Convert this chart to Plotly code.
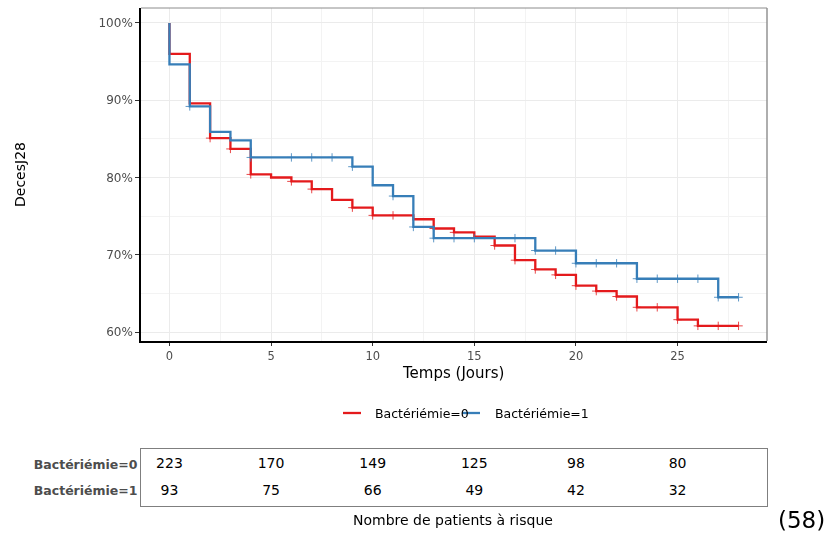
import plotly.graph_objects as go

# Kaplan-Meier step curves (time in days, survival in %)
t0 = [0, 0, 1, 2, 3, 4, 5, 6, 7, 8, 9, 10, 12, 13, 14, 15, 16, 17, 18, 19, 20, 21, 22, 23, 25, 26, 28]
s0 = [100, 96.0, 89.6, 85.1, 83.7, 80.4, 80.0, 79.5, 78.5, 77.1, 76.1, 75.1, 74.6, 73.4, 72.9, 72.35,
      71.2, 69.3, 68.1, 67.4, 66.0, 65.3, 64.6, 63.2, 61.6, 60.8, 60.8]
t1 = [0, 0, 1, 2, 3, 4, 9, 10, 11, 12, 13, 18, 20, 23, 27, 28]
s1 = [100, 94.65, 89.2, 85.9, 84.8, 82.6, 81.4, 79.0, 77.6, 73.6, 72.15, 70.55, 68.9, 66.9, 64.5, 64.5]

# censoring times
c0 = [2, 3, 4, 6, 7, 9, 10, 11, 13, 14, 16, 17, 18, 19, 20, 21, 22, 23, 24, 25, 26, 27, 28]
c1 = [1, 4, 6, 7, 8, 9, 11, 12, 13, 14, 15, 17, 18, 19, 20, 21, 22, 23, 24, 25, 26, 27, 28]

groups = ["Bactériémie=0", "Bactériémie=1"]
colors = ["#E41A1C", "#377EB8"]

# numbers at risk
risk_times = [0, 5, 10, 15, 20, 25]
risk0 = [223, 170, 149, 125, 98, 80]
risk1 = [93, 75, 66, 49, 42, 32]

x_ticks = [0, 5, 10, 15, 20, 25]
y_ticks = [60, 70, 80, 90, 100]
y_ticklabels = ["60%", "70%", "80%", "90%", "100%"]


def surv_at(ts, ss, t):
    v = ss[0]
    for ti, si in zip(ts, ss):
        if ti <= t:
            v = si
    return v


W, H = 824, 537
FONT = "DejaVu Sans"

fig = go.Figure()

for ts, ss, cs, col, name in [(t0, s0, c0, colors[0], groups[0]), (t1, s1, c1, colors[1], groups[1])]:
    fig.add_trace(go.Scatter(x=ts, y=ss, mode="lines", line=dict(shape="hv", color=col, width=2.3),
                             name=name, showlegend=False, xaxis="x", yaxis="y"))
    fig.add_trace(go.Scatter(x=cs, y=[surv_at(ts, ss, c) for c in cs], mode="markers",
                             marker=dict(symbol="cross-thin", size=6, line=dict(color=col, width=1)),
                             opacity=0.8, showlegend=False, hoverinfo="skip", xaxis="x", yaxis="y"))

# risk table
row_y = [0.72, 0.263]
for vals, ry in zip([risk0, risk1], row_y):
    fig.add_trace(go.Scatter(x=risk_times, y=[ry] * len(risk_times), mode="text",
                             text=[str(v) for v in vals], textposition="middle center",
                             textfont=dict(family=FONT, size=14, color="black"),
                             showlegend=False, hoverinfo="skip", xaxis="x2", yaxis="y2"))

xdom = [141 / W, 767 / W]
grid = "#EBEBEB"

fig.update_layout(
    width=W, height=H,
    margin=dict(l=0, r=0, t=0, b=0),
    paper_bgcolor="white", plot_bgcolor="white",
    font=dict(family=FONT),
    xaxis=dict(domain=xdom, range=[-1.4, 29.4], tickvals=x_ticks, ticks="outside", ticklen=3,
               tickcolor="#333333", tickfont=dict(size=11.5, color="#4D4D4D"),
               showgrid=True, gridcolor=grid, gridwidth=1,
               minor=dict(tickvals=[2.5, 7.5, 12.5, 17.5, 22.5, 27.5], showgrid=True,
                          gridcolor="#F3F3F3", gridwidth=1),
               showline=True, linecolor="black", linewidth=1.6, zeroline=False,
               anchor="y"),
    yaxis=dict(domain=[1 - 341 / H, 1 - 8 / H], range=[58.84, 101.94], tickvals=y_ticks,
               ticktext=y_ticklabels, ticks="outside", ticklen=4, tickcolor="#333333",
               tickfont=dict(size=12, color="#4D4D4D"),
               showgrid=True, gridcolor=grid, gridwidth=1,
               minor=dict(tickvals=[65, 75, 85, 95], showgrid=True, gridcolor="#F3F3F3", gridwidth=1),
               showline=True, linecolor="black", linewidth=1.6, zeroline=False,
               anchor="x"),
    xaxis2=dict(domain=xdom, range=[-1.4, 29.4], showticklabels=False, showgrid=False,
                zeroline=False, showline=True, mirror=True, linecolor="#7F7F7F", linewidth=1,
                ticks="", anchor="y2"),
    yaxis2=dict(domain=[1 - 506 / H, 1 - 449 / H], range=[0, 1], tickvals=row_y,
                ticktext=["<b>" + g + "</b>" for g in groups], ticks="", ticklen=0,
                tickfont=dict(size=12.5, color="#4D4D4D"), showgrid=False, zeroline=False,
                showline=True, mirror=True, linecolor="#7F7F7F", linewidth=1, anchor="x2"),
)

# top and right panel border of the curve panel
fig.add_shape(type="line", xref="paper", yref="paper", x0=xdom[0], x1=xdom[1],
              y0=1 - 8 / H, y1=1 - 8 / H, line=dict(color="#8C8C8C", width=1))
fig.add_shape(type="line", xref="paper", yref="paper", x0=xdom[1], x1=xdom[1],
              y0=1 - 341 / H, y1=1 - 8 / H, line=dict(color="#8C8C8C", width=1.4))

# axis titles
fig.add_annotation(text="Temps (Jours)", xref="paper", yref="paper", x=453 / W, y=1 - 373 / H,
                   showarrow=False, font=dict(size=15, color="black"), xanchor="center", yanchor="middle")
fig.add_annotation(text="DecesJ28", xref="paper", yref="paper", x=20 / W, y=1 - 175 / H,
                   showarrow=False, textangle=-90, font=dict(size=14, color="black"),
                   xanchor="center", yanchor="middle")

# legend
leg = [(343, 361, 373), (462, 480, 493)]
for (a, b, tx), col, g in zip(leg, colors, groups):
    fig.add_shape(type="line", xref="paper", yref="paper", x0=a / W, x1=b / W,
                  y0=1 - 413 / H, y1=1 - 413 / H, line=dict(color=col, width=2.3))
    fig.add_annotation(text=g, xref="paper", yref="paper", x=tx / W, y=1 - 413 / H,
                       showarrow=False, font=dict(size=12.5, color="black"),
                       xanchor="left", yanchor="middle")

fig.add_annotation(text="Nombre de patients à risque", xref="paper", yref="paper",
                   x=453 / W, y=1 - 520 / H, showarrow=False, font=dict(size=14, color="black"),
                   xanchor="center", yanchor="middle")
fig.add_annotation(text="(58)", xref="paper", yref="paper", x=801 / W, y=1 - 520 / H,
                   showarrow=False, font=dict(size=23, color="black"),
                   xanchor="center", yanchor="middle")

fig.write_html("out.html")
